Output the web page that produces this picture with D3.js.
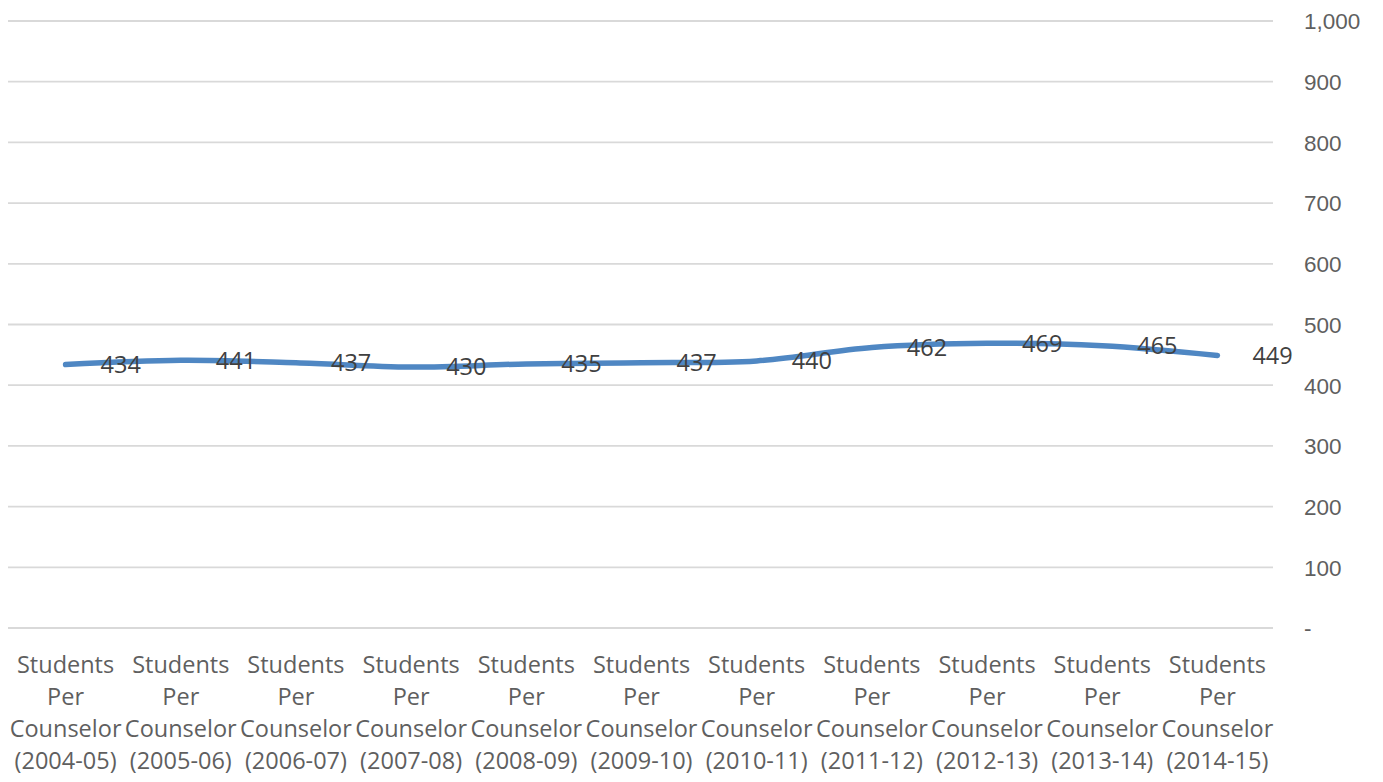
<!DOCTYPE html>
<html>
<head>
<meta charset="utf-8">
<script src="https://cdn.jsdelivr.net/npm/d3@7"></script>
<style>
  html, body { margin: 0; padding: 0; background: #fff; }
  svg { display: block; font-family: "Open Sans", "Noto Sans", sans-serif; }
</style>
</head>
<body>
<svg id="chart" width="1383" height="782"></svg>
<script>
// School years on the category axis
const years = ["2004-05", "2005-06", "2006-07", "2007-08", "2008-09", "2009-10",
               "2010-11", "2011-12", "2012-13", "2013-14", "2014-15"];
// Students per counselor for each year
const ratios = [434, 441, 437, 430, 435, 437, 440, 462, 469, 465, 449];
// Value axis ticks
const yTicks = [0, 100, 200, 300, 400, 500, 600, 700, 800, 900, 1000];

const svg = d3.select("#chart");
const plotLeft = 8, plotRight = 1273, plotTop = 21, plotBottom = 628;

const x = d3.scaleBand().domain(years).range([plotLeft, plotRight + 2]);
const y = d3.scaleLinear().domain([0, 1000]).range([plotBottom, plotTop]);
const cx = d => x(d) + x.bandwidth() / 2;

// Horizontal gridlines
svg.append("g")
  .selectAll("line")
  .data(yTicks)
  .join("line")
  .attr("x1", plotLeft).attr("x2", plotRight)
  .attr("y1", d => y(d)).attr("y2", d => y(d))
  .attr("stroke", "#d9d9d9").attr("stroke-width", 1.8);

// Right-side value axis
const fmt = d3.format(",");
const yAxis = d3.axisRight(y).tickValues(yTicks).tickSize(0).tickPadding(0)
  .tickFormat(d => d === 0 ? "-" : fmt(d));
const ay = svg.append("g").attr("transform", `translate(${plotRight + 31},0)`).call(yAxis);
ay.select(".domain").remove();
ay.selectAll("text")
  .attr("fill", "#5f5f5f")
  .attr("font-size", 22.5)
  .attr("dy", "0.35em")
  .attr("text-anchor", "start");

// Category labels, four lines each
const cat = svg.append("g")
  .selectAll("text")
  .data(years)
  .join("text")
  .attr("text-anchor", "middle")
  .attr("fill", "#5f5f5f")
  .attr("font-size", 23.5);
const lines = d => ["Students", "Per", "Counselor", "(" + d + ")"];
cat.each(function(d) {
  const t = d3.select(this);
  lines(d).forEach((s, i) => {
    t.append("tspan").attr("x", cx(d)).attr("y", 673 + i * 32).text(s);
  });
});

// Smoothed series line
const pts = years.map((d, i) => ({ year: d, v: ratios[i] }));
const line = d3.line()
  .x(d => cx(d.year))
  .y(d => y(d.v))
  .curve(d3.curveCatmullRom.alpha(0.5));
svg.append("path")
  .datum(pts)
  .attr("d", line)
  .attr("fill", "none")
  .attr("stroke", "#4f87c3")
  .attr("stroke-width", 5.5)
  .attr("stroke-linecap", "round")
  .attr("stroke-linejoin", "round");

// Value labels to the right of each point
svg.append("g")
  .selectAll("text")
  .data(pts)
  .join("text")
  .attr("x", d => cx(d.year) + 35)
  .attr("y", d => y(d.v))
  .attr("dy", "0.35em")
  .attr("text-anchor", "start")
  .attr("fill", "#404040")
  .attr("font-size", 23.5)
  .text(d => d.v);
</script>
</body>
</html>
